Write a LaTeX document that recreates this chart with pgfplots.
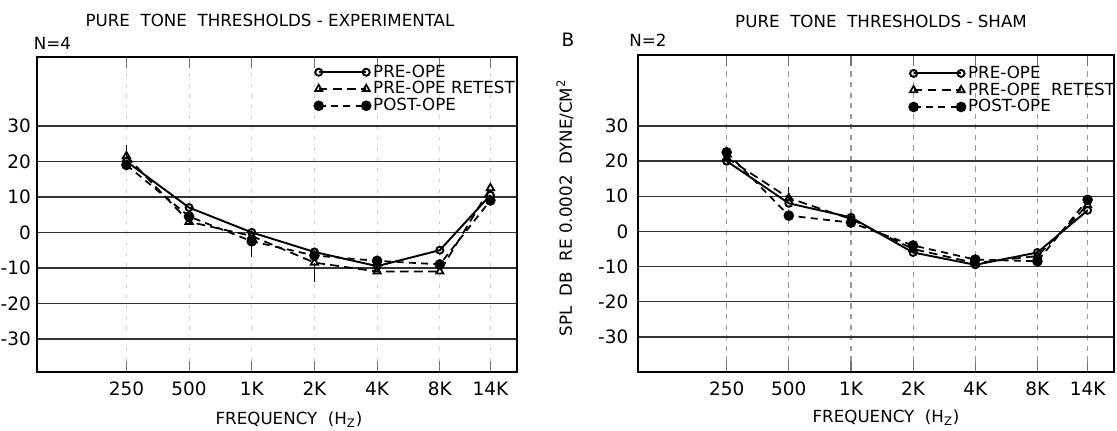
\documentclass[border=0pt]{standalone}
\usepackage{fontspec}
\setmainfont{DejaVu Sans}
\usepackage{pgfplots}
\pgfplotsset{compat=1.18}

% shared look of both audiogram panels
\pgfplotsset{
  legend image code/.code={\draw[#1] plot coordinates {(0cm,0cm) (0.95cm,0cm)};},
  pre/.style={black, solid, line width=1.1pt, mark=o, mark size=2pt,
    mark options={solid, fill=white}},
  retest/.style={black, dash pattern=on 5pt off 3pt, line width=1pt,
    mark=triangle, mark size=2.4pt, mark options={solid, fill=white}},
  post/.style={black, dash pattern=on 4pt off 3pt, line width=1pt,
    mark=*, mark size=2.5pt, mark options={solid}},
  spread/.style={forget plot, black, solid, line width=0.6pt, mark=none},
}

\begin{document}
\begin{tikzpicture}
\useasboundingbox (0,0) rectangle (22.34,8.6);

% ---------------- experimental group ----------------
\begin{axis}[
  at={(0.74cm,1.16cm)}, anchor=south west,
  scale only axis, width=9.6cm, height=6.3cm,
  xmode=log, log basis x=2,
  xmin=93, xmax=18800, ymin=-39.3, ymax=49.4,
  xtick={250,500,1000,2000,4000,8000,14000},
  xticklabels={250,500,1K,2K,4K,8K,14K},
  ytick={-30,-20,-10,0,10,20,30},
  yticklabels={-30,-20,-10,0,10,20,30},
  ymajorgrids, xmajorgrids,
  y grid style={black!80, line width=0.8pt},
  x grid style={black!18, dash pattern=on 2pt off 4pt, line width=0.5pt},
  axis line style={black, line width=1pt},
  tick align=inside, major tick length=0.22cm,
  xtick style={black!55, line width=0.6pt},
  ytick style={draw=none},
  ticklabel style={font=\fontsize{10.5}{12}\selectfont},
  xticklabel style={yshift=-2pt},
  legend cell align=left,
  legend style={at={(0.577,0.985)}, anchor=north west,
    draw=none, fill=none, inner sep=0pt,
    font=\fontsize{9.5}{10}\selectfont, row sep=-2pt,
    nodes={inner sep=1.5pt}},
]
\addplot[pre] coordinates {(250,20) (500,7) (1000,0) (2000,-5.5) (4000,-9.5) (8000,-5) (14000,10.5)};
\addlegendentry{PRE-OPE}
\addplot[retest] coordinates {(250,21.5) (500,3) (1000,-1) (2000,-8.5) (4000,-11) (8000,-11) (14000,12.5)};
\addlegendentry{PRE-OPE RETEST}
\addplot[post] coordinates {(250,19) (500,4.5) (1000,-2.5) (2000,-6.5) (4000,-8) (8000,-9) (14000,9)};
\addlegendentry{POST-OPE}
% spread of the individual thresholds
\addplot[spread] coordinates {(250,21.5) (250,24.5)};
\addplot[spread] coordinates {(1000,-2.5) (1000,-7)};
\addplot[spread] coordinates {(2000,-8.5) (2000,-14)};
\end{axis}

% ---------------- sham group ----------------
\begin{axis}[
  at={(12.76cm,1.16cm)}, anchor=south west,
  scale only axis, width=9.52cm, height=6.34cm,
  xmode=log, log basis x=2,
  xmin=93, xmax=18800, ymin=-40, ymax=50.2,
  xtick={250,500,1000,2000,4000,8000,14000},
  xticklabels={250,500,1K,2K,4K,8K,14K},
  ytick={-30,-20,-10,0,10,20,30},
  yticklabels={-30,-20,-10,0,10,20,30},
  ymajorgrids, xmajorgrids,
  y grid style={black!80, line width=0.8pt},
  x grid style={black!40, dash pattern=on 3pt off 3pt, line width=0.6pt},
  axis line style={black, line width=1pt},
  tick align=inside, major tick length=0.22cm,
  xtick style={black!55, line width=0.6pt},
  ytick style={draw=none},
  ticklabel style={font=\fontsize{10.5}{12}\selectfont},
  xticklabel style={yshift=-2pt},
  yticklabel style={xshift=-2pt},
  legend cell align=left,
  legend style={at={(0.569,0.975)}, anchor=north west,
    draw=none, fill=none, inner sep=0pt,
    font=\fontsize{9.5}{10}\selectfont, row sep=-2pt,
    nodes={inner sep=1.5pt}},
]
\addplot[pre] coordinates {(250,20) (500,8) (1000,4) (2000,-6) (4000,-9.5) (8000,-6) (14000,6)};
\addlegendentry{PRE-OPE}
\addplot[retest] coordinates {(250,21) (500,9.5) (1000,3.5) (2000,-5) (4000,-9) (8000,-7) (14000,7.5)};
\addlegendentry{PRE-OPE\ \ RETEST}
\addplot[post] coordinates {(250,22.5) (500,4.5) (1000,2.5) (2000,-4) (4000,-8) (8000,-8.5) (14000,9)};
\addlegendentry{POST-OPE}
\addplot[spread] coordinates {(500,9.5) (500,12.5)};
\end{axis}

% titles and labels
\begin{scope}[every node/.style={font=\fontsize{9.5}{11}\selectfont, inner sep=0pt}]
\node at (5.4,8.2) {PURE\ \ TONE\ \ THRESHOLDS - EXPERIMENTAL};
\node at (1.05,7.74) {N=4};
\node at (17.62,8.18) {PURE\ \ TONE\ \ THRESHOLDS - SHAM};
\node[font=\fontsize{10.5}{12}\selectfont] at (11.36,7.8) {B};
\node at (12.96,7.8) {N=2};
\node[rotate=90] at (11.3,4.44) {SPL\ \ DB\ \ RE 0.0002\ \ DYNE/CM\textsuperscript{2}};
\node at (5.78,0.2) {FREQUENCY\ \ (H\textsubscript{Z})};
\node at (17.72,0.24) {FREQUENCY\ \ (H\textsubscript{Z})};
\end{scope}
\end{tikzpicture}
\end{document}
